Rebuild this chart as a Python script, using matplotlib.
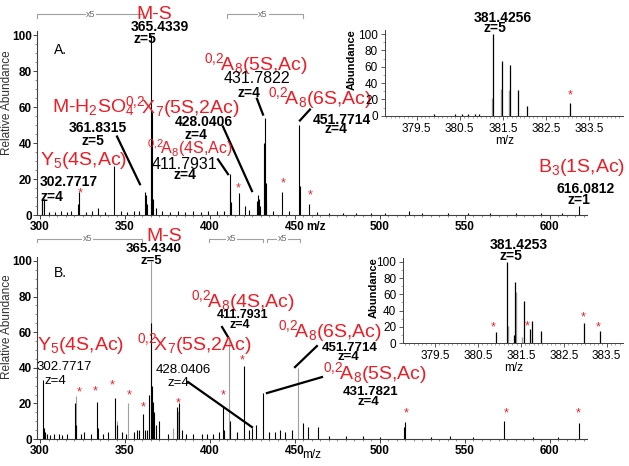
import numpy as np
import matplotlib
matplotlib.use('Agg')
import matplotlib.pyplot as plt
from matplotlib.ticker import MultipleLocator

plt.rcParams['font.family'] = ['Liberation Sans', 'DejaVu Sans']
plt.rcParams['mathtext.fontset'] = 'custom'
plt.rcParams['mathtext.rm'] = 'Liberation Sans'
plt.rcParams['mathtext.it'] = 'Liberation Sans:italic'
plt.rcParams['mathtext.bf'] = 'Liberation Sans:bold'

# ---- panel A spectrum (m/z, relative abundance)
a_mz = [300.9, 301.3, 302.4, 305.5, 309.0, 312.5, 316.0, 318.5, 322.3, 323.2,
        327.0, 330.5, 334.3, 338.0, 343.3, 347.5, 351.0, 355.0, 358.5, 361.8,
        362.4, 363.0, 365.3, 365.8, 366.4, 368.0, 372.0, 376.5, 381.0, 385.0,
        390.0, 394.5, 399.0, 404.0, 408.0, 411.8, 412.3, 416.9, 420.6, 423.0,
        427.5, 428.1, 428.7, 429.3, 431.6, 432.2, 432.7, 433.2, 437.0, 442.2,
        446.5, 452.4, 452.9, 458.4, 463.0, 470.0, 478.0, 486.0, 495.0, 503.0,
        516.9, 525.0, 540.0, 552.0, 565.0, 580.0, 595.0, 607.0, 617.2]
a_int = [9, 8, 9, 1.5, 1.5, 2, 1.5, 2, 6, 13,
         1.5, 2, 4, 1.5, 27, 2, 1.5, 2, 2.5, 13,
         11, 6, 100, 57, 9, 4, 2, 1.5, 2, 1.5,
         2, 1.5, 2, 2, 2.5, 23, 7, 12, 5, 3,
         8, 11, 9, 5, 40, 54, 18, 8, 2.5, 13,
         2, 50, 16, 6, 1.5, 1, 1, 1, 1, 1,
         2, 1, 1, 1, 1, 1, 1, 1, 5]
a_grey_mz = [365.5, 411.5, 431.9]
a_grey_int = [40, 15, 30]

# ---- panel B spectrum
b_mz = [301.6, 302.2, 302.8, 304.0, 306.0, 308.0, 311.0, 313.0, 316.0, 320.8,
        321.3, 324.0, 326.0, 330.0, 333.3, 334.0, 337.0, 340.0, 344.1, 345.0,
        348.0, 350.5, 355.0, 357.0, 358.5, 360.8, 361.5, 363.0, 364.2, 365.3,
        365.9, 366.3, 367.0, 368.0, 370.2, 375.0, 380.4, 381.8, 383.5, 386.0,
        390.0, 395.0, 398.0, 402.0, 405.0, 407.8, 408.4, 412.0, 416.0, 420.0,
        423.0, 425.0, 427.0, 431.4, 435.0, 438.0, 441.0, 444.0, 448.0, 454.9,
        457.8, 463.7, 470.0, 480.0, 490.0, 500.0, 514.1, 514.7, 530.0, 541.0,
        555.0, 572.9, 590.0, 605.0, 617.2]
b_int = [33, 6, 4, 3, 2, 3, 3, 2, 3, 20,
         8, 3, 4, 3, 21, 6, 3, 4, 23, 8,
         4, 3, 4, 5, 5, 14, 5, 5, 25, 65,
         30, 21, 15, 8, 10, 3, 18, 20, 5, 3,
         3, 3, 3, 3, 4, 18, 5, 10, 4, 41,
         5, 6, 8, 26, 4, 4, 5, 4, 5, 9,
         7, 7, 1.5, 1.5, 1.5, 1, 7, 9.5, 1, 1.5,
         1, 10, 1, 1, 9]
b_grey_mz = [321.0, 345.5, 352.0, 365.1, 378.0, 381.0, 411.4, 452.0]
b_grey_int = [24, 10, 20, 100, 6, 16, 55, 40]

# ---- insets (isotope clusters)
ia_mz = [379.9, 380.4, 380.55, 380.7, 380.85, 380.95, 381.26, 381.47, 381.66, 381.86, 382.07, 383.06]
ia_int = [1.5, 2.5, 1.5, 2, 2.5, 1.5, 100, 67, 62, 31, 12, 15]
ia_grey_mz = [381.24, 381.45, 381.64]
ia_grey_int = [22, 33, 31]

ib_mz = [380.92, 381.17, 381.35, 381.37, 381.57, 381.71, 381.77, 381.97, 382.97, 383.34]
ib_int = [13.5, 100, 10, 75, 52, 17, 27, 15, 25, 15]
ib_grey_mz = [381.19, 381.39, 381.53]
ib_grey_int = [21, 63, 8]

main_xticks = [300, 350, 400, 450, 500, 550, 600]
main_yticks = [0, 20, 40, 60, 80, 100]
inset_xticks = [379.5, 380.5, 381.5, 382.5, 383.5]
inset_yticks = [0, 20, 40, 60, 80, 100]

RED = '#ee1c25'
GREY = '#a0a0a0'


def xring(letter, num, rest):
    # cross-ring fragment name like 0,2A8(5S,Ac)
    return r'$\mathregular{{}^{0{,}2}\!%s_{%s}}$%s' % (letter, num, rest)


fig = plt.figure(figsize=(6.29, 4.66), dpi=100)
axA = fig.add_axes([0.0596, 0.5386, 0.8736, 0.394])
axB = fig.add_axes([0.0596, 0.0579, 0.8736, 0.3897])
inA = fig.add_axes([0.6121, 0.7517, 0.3789, 0.1841], facecolor='none')
inB = fig.add_axes([0.6412, 0.2633, 0.3493, 0.1839], facecolor='none')


def style_main(ax, ylab_y):
    for s in ['top', 'right']:
        ax.spines[s].set_visible(False)
    for s in ['left', 'bottom']:
        ax.spines[s].set_color('#404040')
        ax.spines[s].set_linewidth(0.8)
    ax.set_xlim(298.5, 621.8)
    ax.set_ylim(0, 102)
    ax.set_xticks(main_xticks)
    ax.set_xticklabels([str(t) for t in main_xticks], fontweight='bold')
    ax.set_yticks(main_yticks)
    ax.set_yticklabels([str(t) for t in main_yticks], fontweight='bold')
    ax.xaxis.set_minor_locator(MultipleLocator(5))
    ax.yaxis.set_minor_locator(MultipleLocator(5))
    ax.tick_params(which='major', direction='out', length=3, width=0.7, labelsize=8.5, pad=1,
                   color='#404040')
    ax.tick_params(which='minor', direction='out', length=1.5, width=0.5, color='#606060')
    ax.set_ylabel('Relative Abundance', fontsize=8.5, color='#303030')
    ax.yaxis.set_label_coords(-0.045, ylab_y)


def style_inset(ax, xlim):
    for s in ['top', 'right']:
        ax.spines[s].set_visible(False)
    for s in ['left', 'bottom']:
        ax.spines[s].set_color('#404040')
        ax.spines[s].set_linewidth(0.7)
    ax.set_xlim(*xlim)
    ax.set_ylim(0, 105)
    ax.set_xticks(inset_xticks)
    ax.set_xticklabels([str(t) for t in inset_xticks])
    ax.set_yticks(inset_yticks)
    ax.xaxis.set_minor_locator(MultipleLocator(0.1))
    ax.yaxis.set_minor_locator(MultipleLocator(10))
    ax.tick_params(which='major', direction='out', length=3, width=0.6, labelsize=8.5, pad=2,
                   color='#404040')
    ax.tick_params(which='minor', direction='out', length=1.5, width=0.4, color='#606060')
    ax.set_ylabel('Abundance', fontsize=8, fontweight='bold', labelpad=1)
    ax.set_xlabel('m/z', fontsize=8.5, labelpad=0)


def bracket(ax, x0, x1, y, xt):
    ax.plot([x0, x0, x1, x1], [y - 2, y, y, y - 2], color=GREY, lw=0.8, clip_on=False)
    ax.text(xt, y, 'x5', fontsize=6.5, color='#707070', ha='center', va='center',
            bbox=dict(facecolor='white', edgecolor='none', pad=0.5), clip_on=False)


def txt(ax, x, y, s, size, color='black', weight='normal', ha='center'):
    ax.text(x, y, s, fontsize=size, color=color, fontweight=weight, ha=ha, va='center',
            clip_on=False)


def star(ax, x, y):
    ax.text(x, y, '*', fontsize=9, color=RED, ha='center', va='center', clip_on=False)


def link(ax, x0, y0, x1, y1):
    ax.plot([x0, x1], [y0, y1], color='black', lw=1.6, clip_on=False)


# ---------------- panel A
axA.vlines(a_grey_mz, 0, a_grey_int, colors=GREY, lw=0.8)
axA.vlines(a_mz, 0, a_int, colors='black', lw=0.8)
style_main(axA, 0.61)
bracket(axA, 298.5, 360.6, 111.6, 330)
bracket(axA, 410, 454.7, 111.6, 431.2)

txt(axA, 367.1, 111.6, 'M-S', 14, RED)
txt(axA, 370.6, 104.4, '365.4339', 10, weight='bold')
txt(axA, 361.8, 97.8, 'z=5', 10, weight='bold')
txt(axA, 311.8, 91.7, 'A.', 10)
txt(axA, 307.1, 60.2, r'M-H$\mathregular{_2}$SO$\mathregular{_4}$', 14, RED, ha='left')
txt(axA, 350.0, 60.2, xring('X', '7', '(5S,2Ac)'), 14, RED, ha='left')
txt(axA, 334.1, 48.6, '361.8315', 10, weight='bold')
txt(axA, 331.2, 40.9, 'z=5', 10, weight='bold')
link(axA, 345.3, 43.6, 358.8, 17.1)
txt(axA, 300.0, 30.4, r'Y$\mathregular{_5}$(4S,Ac)', 14, RED, ha='left')
txt(axA, 317.1, 18.2, '302.7717', 10, weight='bold')
txt(axA, 300.0, 9.9, 'z=4', 10, weight='bold', ha='left')
txt(axA, 388.2, 37.0, xring('A', '8', '(4S,Ac)'), 11.5, RED)
txt(axA, 384.7, 28.2, '411.7931', 11.5)
txt(axA, 385.3, 22.1, 'z=4', 10, weight='bold')
link(axA, 404.7, 30.9, 410.6, 22.7)
txt(axA, 396.5, 51.4, '428.0406', 10, weight='bold')
txt(axA, 391.8, 44.4, 'z=4', 10, weight='bold')
link(axA, 407.6, 49.2, 424.7, 13.3)
txt(axA, 427.1, 84.0, xring('A', '8', '(5S,Ac)'), 14, RED)
txt(axA, 427.6, 75.7, '431.7822', 11.5)
txt(axA, 422.9, 68.0, 'z=4', 10, weight='bold')
link(axA, 427.6, 64.6, 431.2, 55.8)
txt(axA, 434.1, 65.2, xring('A', '8', '(6S,Ac)'), 14, RED, ha='left')
txt(axA, 477.6, 53.0, '451.7714', 10, weight='bold')
txt(axA, 474.1, 48.0, 'z=4', 10, weight='bold')
link(axA, 452.9, 52.5, 458.8, 58.6)
txt(axA, 592.9, 26.5, r'B$\mathregular{_3}$(1S,Ac)', 14, RED, ha='left')
txt(axA, 621.2, 14.4, '616.0812', 10, weight='bold')
txt(axA, 617.1, 8.3, 'z=1', 10, weight='bold')
txt(axA, 462.4, -6.6, 'm/z', 8.5, weight='bold')
for x, y in [(323.5, 12.2), (416.5, 14.9), (442.9, 17.7), (458.8, 11.0)]:
    star(axA, x, y)

# ---------------- panel B
axB.vlines(b_grey_mz, 0, b_grey_int, colors=GREY, lw=0.8)
axB.vlines(b_mz, 0, b_int, colors='black', lw=0.8)
style_main(axB, 0.62)
bracket(axB, 298.5, 360.0, 112.4, 328.2)
bracket(axB, 399.4, 431.2, 112.4, 412.9)
bracket(axB, 433.5, 453.0, 112.4, 442.9)

txt(axB, 372.9, 113.5, 'M-S', 14, RED)
txt(axB, 367.1, 106.7, '365.4340', 9.5, weight='bold')
txt(axB, 365.3, 100.0, 'z=5', 9.5, weight='bold')
txt(axB, 311.8, 93.3, 'B.', 10)
txt(axB, 419.4, 77.5, xring('A', '8', '(4S,Ac)'), 14, RED)
txt(axB, 419.4, 69.8, '411.7931', 9, weight='bold')
txt(axB, 417.6, 64.3, 'z=4', 9, weight='bold')
link(axB, 407.1, 62.9, 410.6, 57.3)
txt(axB, 298.2, 52.8, r'Y$\mathregular{_5}$(4S,Ac)', 14, RED, ha='left')
txt(axB, 314.1, 40.4, '302.7717', 9.5)
txt(axB, 308.8, 32.6, 'z=4', 9.5)
txt(axB, 390.6, 53.4, xring('X', '7', '(5S,2Ac)'), 14, RED)
txt(axB, 384.1, 38.8, '428.0406', 9.5)
txt(axB, 381.2, 31.5, 'z=4', 9.5)
link(axB, 387.1, 32.0, 424.7, 6.7)
txt(axB, 440.0, 60.7, xring('A', '8', '(6S,Ac)'), 14, RED, ha='left')
txt(axB, 482.4, 51.1, '451.7714', 9.5, weight='bold')
txt(axB, 481.2, 46.1, 'z=4', 9.5, weight='bold')
link(axB, 450.0, 40.4, 462.9, 52.2)
txt(axB, 466.5, 37.1, xring('A', '8', '(5S,Ac)'), 14, RED, ha='left')
txt(axB, 494.7, 26.4, '431.7821', 9.5, weight='bold')
txt(axB, 492.9, 20.8, 'z=4', 9.5, weight='bold')
link(axB, 433.5, 25.8, 465.9, 34.8)
txt(axB, 460.0, -9.0, 'm/z', 8.5)
for x, y in [(322.9, 26.4), (332.4, 27.0), (342.4, 30.3), (352.4, 24.2), (360.6, 18.0),
             (381.2, 20.2), (407.6, 24.7), (418.8, 44.4), (515.3, 14.6), (574.1, 14.6),
             (616.5, 14.6)]:
    star(axB, x, y)

# ---------------- insets
inA.vlines(ia_grey_mz, 0, ia_grey_int, colors=GREY, lw=1.0)
inA.vlines(ia_mz, 0, ia_int, colors='black', lw=0.9)
style_inset(inA, (378.77, 384.29))
inA.yaxis.set_label_coords(-0.1175, 0.65)
txt(inA, 381.5, 119.6, '381.4256', 10, weight='bold')
txt(inA, 381.31, 107.3, 'z=5', 10, weight='bold')
star(inA, 383.06, 25.3)

inB.vlines(ib_grey_mz, 0, ib_grey_int, colors=GREY, lw=1.0)
inB.vlines(ib_mz, 0, ib_int, colors='black', lw=0.9)
style_inset(inB, (378.76, 383.88))
inB.yaxis.set_label_coords(-0.114, 0.645)
txt(inB, 381.45, 120.5, '381.4253', 10, weight='bold')
txt(inB, 381.27, 107.0, 'z=5', 10, weight='bold')
for x, y in [(380.85, 20.0), (381.64, 21.2), (382.94, 32.2), (383.31, 20.0)]:
    star(inB, x, y)

fig.savefig('out.png', dpi=100)
